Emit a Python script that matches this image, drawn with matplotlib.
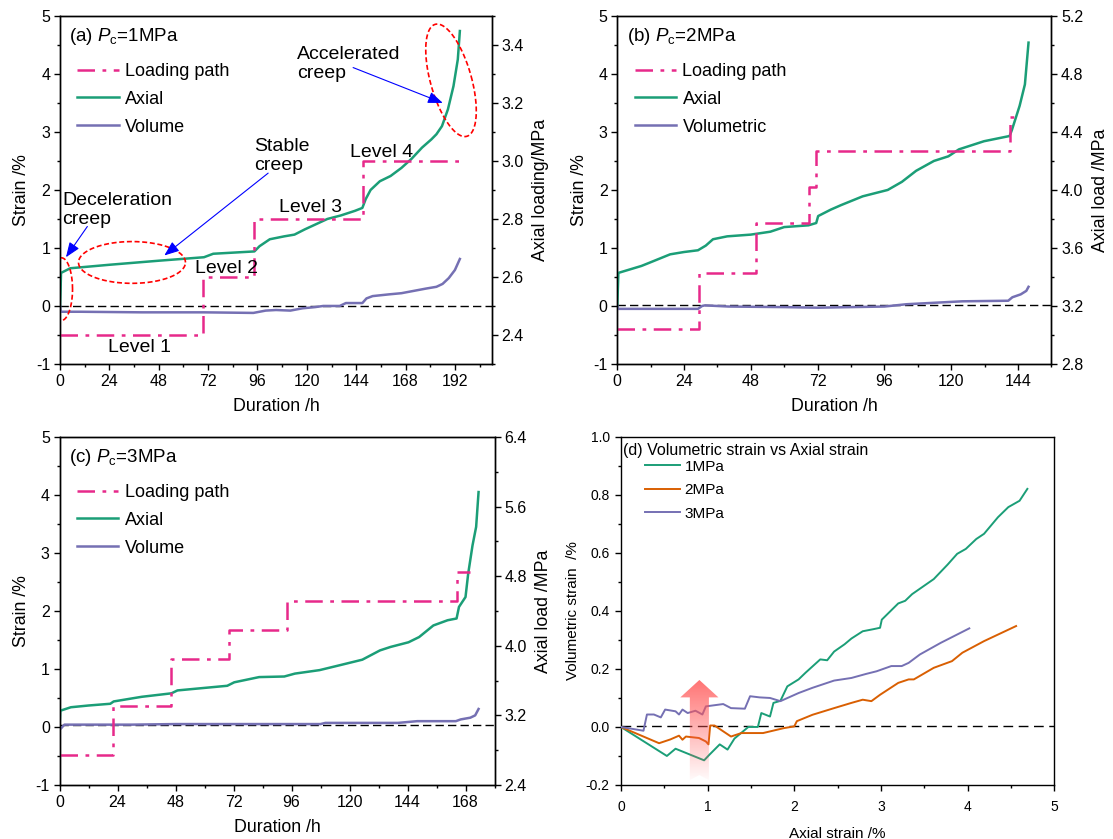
import numpy as np
import matplotlib
matplotlib.use('Agg')
import matplotlib.pyplot as plt
from matplotlib.patches import Polygon
from matplotlib.ticker import MultipleLocator

plt.rcParams['font.family'] = ['Liberation Sans', 'DejaVu Sans']
plt.rcParams['mathtext.fontset'] = 'custom'
plt.rcParams['mathtext.rm'] = 'Liberation Sans'
plt.rcParams['mathtext.it'] = 'Liberation Sans:italic'
plt.rcParams['axes.unicode_minus'] = False
plt.rcParams['axes.linewidth'] = 1.0

GREEN = '#1B9E77'
ORANGE = '#D95F02'
PURPLE = '#7570B3'
PINK = '#E7298A'

# ---- (a) Pc = 1 MPa ----
a_load_t = [0, 69.6, 94.4, 147.2, 196.8]
a_load = [2.4, 2.6, 2.8, 3.0, 3.0]
a_ax_t = [0, 0.3, 0.5, 5, 24, 48, 70, 74.5, 94.5, 97, 102, 109, 114, 119, 130,
          136.5, 143.4, 147, 148.6, 151, 155.5, 160.7, 166, 171, 176, 180.5,
          183, 185.7, 188.6, 191.3, 193.4, 194.4]
a_axial = [0, 0.3, 0.57, 0.65, 0.71, 0.78, 0.84, 0.9, 0.94, 1.03, 1.15, 1.2, 1.23,
           1.32, 1.5, 1.56, 1.64, 1.69, 1.84, 2.0, 2.15, 2.24, 2.38, 2.54, 2.73,
           2.87, 2.96, 3.1, 3.39, 3.79, 4.25, 4.74]
a_vol_t = [0, 0.4, 10, 40, 70, 94, 100, 105, 112, 118, 124, 128, 136, 139, 147,
           149, 152, 160, 166, 172, 178, 183, 186, 189, 192, 194.4]
a_vol = [0, -0.1, -0.1, -0.11, -0.11, -0.12, -0.08, -0.07, -0.08, -0.04, -0.02,
         0.0, 0.0, 0.05, 0.05, 0.13, 0.17, 0.2, 0.22, 0.26, 0.3, 0.33, 0.38,
         0.48, 0.62, 0.81]

# ---- (b) Pc = 2 MPa ----
b_load_t = [0, 29.2, 49.7, 69, 71.5, 141, 145]
b_load = [3.04, 3.43, 3.77, 4.02, 4.27, 4.5, 4.5]
b_ax_t = [0, 0.4, 8.7, 11.3, 19, 24, 29, 31.8, 34.4, 39.5, 48, 55, 60, 68.7, 71.5,
          72.2, 76.7, 80.5, 88.2, 97.2, 102.3, 107.4, 113.8, 119, 122.8, 131.8,
          141, 141.8, 144.6, 146.5, 147.8]
b_axial = [0, 0.57, 0.69, 0.74, 0.89, 0.93, 0.96, 1.04, 1.15, 1.2, 1.23, 1.28,
           1.36, 1.39, 1.43, 1.55, 1.66, 1.74, 1.89, 2.0, 2.14, 2.33, 2.5, 2.58,
           2.7, 2.84, 2.93, 3.03, 3.45, 3.82, 4.54]
b_vol_t = [0, 0.3, 10, 29, 30.5, 31.5, 40, 60, 72, 96, 104, 112, 124, 140.5, 142,
           145, 147, 147.8]
b_vol = [0, -0.05, -0.05, -0.05, 0.0, 0.01, -0.01, -0.02, -0.03, -0.01, 0.03,
         0.05, 0.08, 0.09, 0.15, 0.2, 0.26, 0.33]

# ---- (c) Pc = 3 MPa ----
c_load_t = [0, 22, 46.3, 70.1, 94.1, 164.3, 170]
c_load = [2.75, 3.31, 3.85, 4.18, 4.51, 4.85, 4.85]
c_ax_t = [0, 0.3, 4.7, 12, 21, 22.4, 34, 46.3, 48.8, 69.4, 72.3, 82.6, 93, 97.4,
          107.6, 116.5, 125.3, 132.6, 137, 144.4, 148.8, 154.7, 160.6, 164.3,
          165.3, 168, 169.1, 170.9, 172.4, 173.4]
c_axial = [0, 0.28, 0.34, 0.37, 0.4, 0.44, 0.52, 0.58, 0.63, 0.71, 0.77, 0.86,
           0.87, 0.92, 0.98, 1.07, 1.16, 1.32, 1.38, 1.46, 1.55, 1.75, 1.84, 1.87,
           2.07, 2.24, 2.64, 3.13, 3.45, 4.05]
c_vol_t = [0, 0.5, 2, 30, 48, 80, 108, 110, 140, 148, 164, 166, 170, 172, 173.4]
c_vol = [0, -0.03, 0.04, 0.04, 0.05, 0.05, 0.05, 0.07, 0.07, 0.1, 0.1, 0.13, 0.16,
         0.2, 0.31]

# ---- (d) volumetric vs axial strain ----
d1_x = [0, 0.53, 0.63, 0.96, 1.02, 1.14, 1.23, 1.31, 1.47, 1.58, 1.62, 1.72, 1.76,
        1.84, 1.92, 2.05, 2.13, 2.3, 2.38, 2.46, 2.58, 2.66, 2.79, 2.91, 2.99,
        3.01, 3.2, 3.28, 3.36, 3.61, 3.77, 3.88, 3.98, 4.1, 4.19, 4.35, 4.47,
        4.6, 4.69]
d1_y = [0, -0.1, -0.075, -0.115, -0.096, -0.06, -0.078, -0.04, 0.0, 0.0, 0.048,
        0.036, 0.083, 0.09, 0.14, 0.164, 0.187, 0.233, 0.23, 0.26, 0.285, 0.305,
        0.33, 0.337, 0.342, 0.37, 0.426, 0.435, 0.458, 0.51, 0.56, 0.597, 0.614,
        0.648, 0.666, 0.723, 0.758, 0.78, 0.821]
d2_x = [0, 0.44, 0.57, 0.67, 0.71, 0.75, 0.9, 0.98, 1.01, 1.03, 1.08, 1.27, 1.39,
        1.64, 1.88, 2.0, 2.03, 2.21, 2.46, 2.66, 2.79, 2.89, 2.99, 3.2, 3.32,
        3.38, 3.61, 3.82, 3.94, 4.19, 4.56]
d2_y = [0, -0.056, -0.043, -0.03, -0.044, -0.033, -0.038, -0.05, -0.06, 0.005,
        0.005, -0.033, -0.021, -0.021, -0.004, 0.002, 0.02, 0.042, 0.065, 0.083,
        0.094, 0.089, 0.111, 0.152, 0.164, 0.164, 0.204, 0.227, 0.256, 0.296,
        0.348]
d3_x = [0, 0.26, 0.3, 0.38, 0.46, 0.51, 0.63, 0.67, 0.71, 0.77, 0.86, 0.94, 0.98,
        1.18, 1.27, 1.43, 1.49, 1.6, 1.72, 1.84, 2.05, 2.21, 2.46, 2.66, 2.83,
        2.95, 3.12, 3.24, 3.32, 3.45, 3.69, 4.02]
d3_y = [0, -0.013, 0.043, 0.043, 0.033, 0.06, 0.054, 0.043, 0.06, 0.048, 0.056,
        0.043, 0.071, 0.079, 0.065, 0.063, 0.106, 0.102, 0.1, 0.089, 0.117, 0.135,
        0.16, 0.169, 0.183, 0.192, 0.21, 0.21, 0.221, 0.25, 0.29, 0.34]

fig = plt.figure(figsize=(11.13, 8.39), dpi=100)

AX_POS = {
    'a': [0.0539, 0.5662, 0.3881, 0.4148],
    'b': [0.5546, 0.5662, 0.3900, 0.4148],
    'c': [0.0535, 0.0644, 0.3908, 0.4148],
    'd': [0.5579, 0.0644, 0.3893, 0.4148],
}

TICK = 11.5
LAB = 12.8
LEG = 13


def style_ticks(ax):
    ax.tick_params(which='major', direction='out', length=4, width=1.0,
                   labelsize=TICK, pad=3)
    ax.tick_params(which='minor', direction='out', length=2.5, width=1.0)
    ax.tick_params(top=False, right=False, which='both')


def ellipse(ax, cx, cy, rx, ry, k=0.0):
    th = np.linspace(0, 2 * np.pi, 200)
    ex = cx + rx * np.cos(th) + k * np.sin(th)
    ey = cy + ry * np.sin(th)
    ax.plot(ex, ey, color='red', ls=(0, (3, 1.6)), lw=1.2, zorder=6)


def creep_panel(key, tag, xmax, load_t, load, ax_t, axial, vol_t, vol, r_lim,
                r_major, r_minor, r_label, vol_label, zero_y):
    ax = fig.add_axes(AX_POS[key])
    ax.set_xlim(0, xmax)
    ax.set_ylim(-1, 5)
    ax.xaxis.set_major_locator(MultipleLocator(24))
    ax.xaxis.set_minor_locator(MultipleLocator(12))
    ax.yaxis.set_major_locator(MultipleLocator(1))
    ax.yaxis.set_minor_locator(MultipleLocator(0.5))
    style_ticks(ax)
    ax.axhline(zero_y, color='black', ls=(0, (6, 3)), lw=1.0, zorder=1)
    l_ax, = ax.plot(ax_t, axial, color=GREEN, lw=1.8, label='Axial', zorder=3)
    l_vol, = ax.plot(vol_t, vol, color=PURPLE, lw=1.8, label=vol_label, zorder=3)
    ax.set_xlabel('Duration /h', fontsize=LAB, labelpad=7)
    ax.set_ylabel('Strain /%', fontsize=LAB, labelpad=4)

    ax2 = ax.twinx()
    ax2.set_ylim(*r_lim)
    ax2.yaxis.set_major_locator(MultipleLocator(r_major))
    ax2.yaxis.set_minor_locator(MultipleLocator(r_minor))
    ax2.tick_params(which='major', direction='out', length=4, width=1.0,
                    labelsize=TICK, pad=3)
    ax2.tick_params(which='minor', direction='out', length=2.5, width=1.0)
    l_load, = ax2.step(load_t, load, where='post', color=PINK, lw=1.8,
                       ls=(0, (7, 3, 1.5, 3)), label='Loading path', zorder=2)
    ax2.set_ylabel(r_label, fontsize=LAB, labelpad=6)
    ax2.yaxis.set_major_formatter(plt.FormatStrFormatter('%.1f'))

    ax2.legend(handles=[l_load, l_ax, l_vol], loc='upper left',
               bbox_to_anchor=(0.04, 0.865), frameon=False, fontsize=LEG,
               handlelength=2.3, handletextpad=0.35, labelspacing=0.6,
               borderpad=0, borderaxespad=0)
    ax2.text(0.022, 0.94, tag, transform=ax.transAxes, fontsize=13.5,
             ha='left', va='center')
    return ax, ax2


ax_a, ax_a2 = creep_panel('a', r'(a) $\mathit{P}_{\mathrm{c}}$=1MPa', 210,
                          a_load_t, a_load, a_ax_t, a_axial, a_vol_t, a_vol,
                          (2.3, 3.5), 0.2, 0.1, 'Axial loading/MPa', 'Volume', 0.0)
ax_b, ax_b2 = creep_panel('b', r'(b) $\mathit{P}_{\mathrm{c}}$=2MPa', 156,
                          b_load_t, b_load, b_ax_t, b_axial, b_vol_t, b_vol,
                          (2.8, 5.2), 0.4, 0.2, 'Axial load /MPa', 'Volumetric', 0.02)
ax_c, ax_c2 = creep_panel('c', r'(c) $\mathit{P}_{\mathrm{c}}$=3MPa', 180,
                          c_load_t, c_load, c_ax_t, c_axial, c_vol_t, c_vol,
                          (2.4, 6.4), 0.8, 0.4, 'Axial load /MPa', 'Volume', 0.04)

# annotations on (a), placed in strain coordinates of the left axis
tr = ax_a.transData
ANN = 14
ax_a2.text(1.0, 1.65, 'Deceleration\ncreep', transform=tr, fontsize=ANN,
           ha='left', va='center', linespacing=1.15)
ax_a2.text(94.3, 2.58, 'Stable\ncreep', transform=tr, fontsize=ANN,
           ha='left', va='center', linespacing=1.15)
ax_a2.text(115.1, 4.17, 'Accelerated\ncreep', transform=tr, fontsize=ANN,
           ha='left', va='center', linespacing=1.15)
for lbl, x, y in [('Level 1', 38.6, -0.71), ('Level 2', 80.8, 0.65),
                  ('Level 3', 121.9, 1.69), ('Level 4', 156.3, 2.65)]:
    ax_a2.text(x, y, lbl, transform=tr, fontsize=ANN, ha='center', va='center')

arrow_kw = dict(arrowstyle='-|>,head_length=0.9,head_width=0.35', color='blue',
                lw=0.8, shrinkA=0, shrinkB=0)
for (x0, y0), (x1, y1) in [((13.3, 1.37), (2.9, 0.84)),
                           ((101.2, 2.29), (50.7, 0.87)),
                           ((142.5, 4.11), (186.1, 3.5))]:
    ax_a.annotate('', xy=(x1, y1), xytext=(x0, y0), xycoords='data',
                  arrowprops=arrow_kw, zorder=7)

ellipse(ax_a, 0.7, 0.29, 5.4, 0.54)
ellipse(ax_a, 35.0, 0.75, 26.0, 0.36)
ellipse(ax_a, 190.1, 3.89, 10.3, 0.97, k=-6.7)
ax_a.set_xlim(0, 210)
ax_a.set_ylim(-1, 5)

# ---- (d) ----
ax_d = fig.add_axes(AX_POS['d'])
ax_d.set_xlim(0, 5)
ax_d.set_ylim(-0.2, 1.0)
ax_d.xaxis.set_major_locator(MultipleLocator(1))
ax_d.xaxis.set_minor_locator(MultipleLocator(0.5))
ax_d.yaxis.set_major_locator(MultipleLocator(0.2))
ax_d.yaxis.set_minor_locator(MultipleLocator(0.1))
ax_d.yaxis.set_major_formatter(plt.FormatStrFormatter('%.1f'))
ax_d.tick_params(which='major', direction='out', length=4, width=1.0,
                 labelsize=10, pad=7)
ax_d.tick_params(which='minor', direction='out', length=2.5, width=1.0)
ax_d.tick_params(axis='y', which='major', pad=4)
ax_d.axhline(0.005, color='black', ls=(0, (7, 4)), lw=1.0, zorder=1)
ax_d.plot(d1_x, d1_y, color=GREEN, lw=1.4, label='1MPa', zorder=3)
ax_d.plot(d2_x, d2_y, color=ORANGE, lw=1.4, label='2MPa', zorder=3)
ax_d.plot(d3_x, d3_y, color=PURPLE, lw=1.4, label='3MPa', zorder=3)
ax_d.set_xlabel('Axial strain /%', fontsize=11, labelpad=9)
ax_d.set_ylabel('Volumetric strain  /%', fontsize=11, labelpad=4)
ax_d.text(0.005, 0.96, '(d) Volumetric strain vs Axial strain',
          transform=ax_d.transAxes, fontsize=11.5, ha='left', va='center')
ax_d.legend(loc='upper left', bbox_to_anchor=(0.055, 0.935), frameon=False,
            fontsize=11, handlelength=2.3, handletextpad=0.3, labelspacing=0.62,
            borderpad=0, borderaxespad=0)

# gradient arrow
cx, hw, hh = 0.905, 0.11, 0.22
yb, yn, yh, yt = -0.183, -0.166, 0.102, 0.162
verts = [(cx - hw, yb), (cx, yn), (cx + hw, yb), (cx + hw, yh), (cx + hh, yh),
         (cx, yt), (cx - hh, yh), (cx - hw, yh)]
poly = Polygon(verts, closed=True, facecolor='none', edgecolor='none')
ax_d.add_patch(poly)
grad = np.zeros((100, 1, 4))
grad[:, 0, 0] = 1.0
grad[:, 0, 1] = 0.33
grad[:, 0, 2] = 0.33
grad[:, 0, 3] = np.linspace(0.03, 0.82, 100)
im = ax_d.imshow(grad, extent=[cx - hh, cx + hh, yb, yt], origin='lower',
                 aspect='auto', zorder=4, interpolation='bilinear')
im.set_clip_path(poly)
ax_d.set_xlim(0, 5)
ax_d.set_ylim(-0.2, 1.0)

fig.savefig('out.png', dpi=100)
